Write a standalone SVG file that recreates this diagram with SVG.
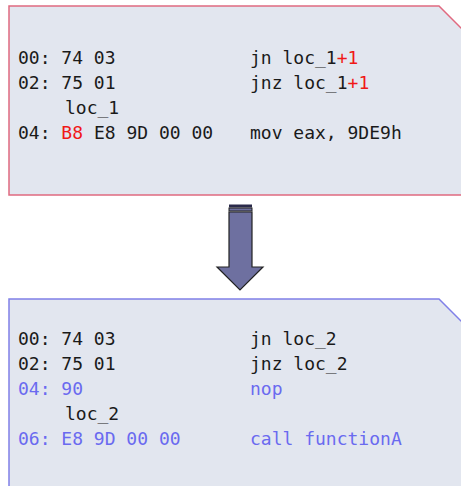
<svg xmlns="http://www.w3.org/2000/svg" width="461" height="486" viewBox="0 0 461 486">
<style>
.box{fill:#e2e6ef;stroke-width:1.5}
.t{font-family:"DejaVu Sans Mono",monospace;font-size:18px;fill:#1a1a1a;white-space:pre}
.r{fill:#f01818}
.b{fill:#6a6af0}
</style>
<rect width="461" height="486" fill="#ffffff"/>
<g id="before">
<path class="box" d="M9,195 L9,6 L439,6 L462,29 L462,195 Z" stroke="#e06a80"/>
<text class="t" x="18" y="64">00: 74 03</text>
<text class="t" x="250" y="64">jn loc_1<tspan class="r">+1</tspan></text>
<text class="t" x="18" y="89">02: 75 01</text>
<text class="t" x="250" y="89">jnz loc_1<tspan class="r">+1</tspan></text>
<text class="t" x="65" y="114">loc_1</text>
<text class="t" x="18" y="139">04: <tspan class="r">B8</tspan> E8 9D 00 00</text>
<text class="t" x="250" y="139">mov eax, 9DE9h</text>
</g>
<g id="connectors">
<rect x="229" y="204.5" width="23" height="3" fill="#2a2a4a"/>
<rect x="229" y="208" width="23" height="3" fill="#6e70a0" stroke="#222" stroke-width="1"/>
<path d="M229,212 L252,212 L252,267 L263,267 L240,290 L217,267 L229,267 Z" fill="#6e70a0" stroke="#222" stroke-width="1.2" stroke-linejoin="miter"/>
</g>
<g id="after">
<path class="box" d="M9,490 L9,299 L439,299 L462,322 L462,490 Z" stroke="#8080e8"/>
<text class="t" x="18" y="345">00: 74 03</text>
<text class="t" x="250" y="345">jn loc_2</text>
<text class="t" x="18" y="370">02: 75 01</text>
<text class="t" x="250" y="370">jnz loc_2</text>
<text class="t b" x="18" y="395">04: 90</text>
<text class="t b" x="250" y="395">nop</text>
<text class="t" x="65" y="420">loc_2</text>
<text class="t b" x="18" y="445">06: E8 9D 00 00</text>
<text class="t b" x="250" y="445">call functionA</text>
</g>
</svg>
